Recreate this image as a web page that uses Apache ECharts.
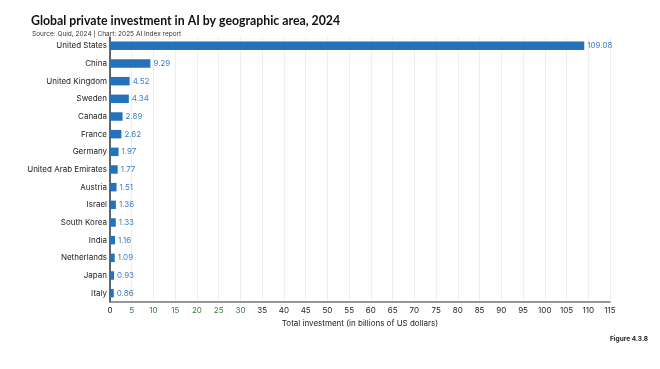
<!DOCTYPE html>
<html><head><meta charset="utf-8">
<script src="https://cdn.jsdelivr.net/npm/echarts@6/dist/echarts.min.js"></script>
<style>html,body{margin:0;padding:0;background:#fff}#c{width:660px;height:369px}</style>
</head><body><div id="c"></div>
<script>
const countries = ["United States","China","United Kingdom","Sweden","Canada","France","Germany","United Arab Emirates","Austria","Israel","South Korea","India","Netherlands","Japan","Italy"];
const investment = [109.08,9.29,4.52,4.34,2.89,2.62,1.97,1.77,1.51,1.36,1.33,1.16,1.09,0.93,0.86];
const greenTicks = [5,10,15,20,25,30];

const chart = echarts.init(document.getElementById('c'));
const font = 'Inter, "Open Sans", sans-serif';
chart.setOption({
  animation:false,
  textStyle:{fontFamily:font},
  title:[
    {text:'Global private investment in AI by geographic area, 2024',left:26,top:10,textStyle:{fontSize:12.3,fontWeight:'bold',color:'#111',fontFamily:'Lato, sans-serif'}},
    {text:'Source: Quid, 2024 | Chart: 2025 AI Index report',left:27,top:26,textStyle:{fontSize:6.5,fontWeight:'normal',color:'#333',fontFamily:font}},
    {text:'Figure 4.3.8',left:605,top:331,textStyle:{fontSize:6.5,fontWeight:'bold',color:'#222',fontFamily:font}}
  ],
  grid:{left:110,right:50,top:37,bottom:67},
  xAxis:{type:'value',min:0,max:115,interval:5,
    name:'Total investment (in billions of US dollars)',nameLocation:'middle',nameGap:15,
    nameTextStyle:{fontSize:8,color:'#222'},
    axisLine:{show:true,lineStyle:{color:'#777',width:1.5}},
    axisTick:{show:false},
    axisLabel:{fontSize:8,color:'#222',margin:5,
      formatter:v=>greenTicks.includes(v)?'{g|'+v+'}':''+v,
      rich:{g:{color:'#3d7a3d',fontSize:8}}},
    splitLine:{show:true,lineStyle:{color:'#eee',width:1}}},
  yAxis:{type:'category',data:countries,inverse:true,
    axisLine:{show:true,lineStyle:{color:'#333',width:1.5}},
    axisTick:{show:false},
    axisLabel:{fontSize:8,color:'#222',margin:3},
    splitLine:{show:false}},
  series:[{type:'bar',data:investment,barWidth:'48%',
    itemStyle:{color:'#2473ba'},
    label:{show:true,position:'right',distance:3,fontSize:8,color:'#3f7fc0',formatter:p=>p.value.toFixed(2)}}]
});
</script></body></html>
